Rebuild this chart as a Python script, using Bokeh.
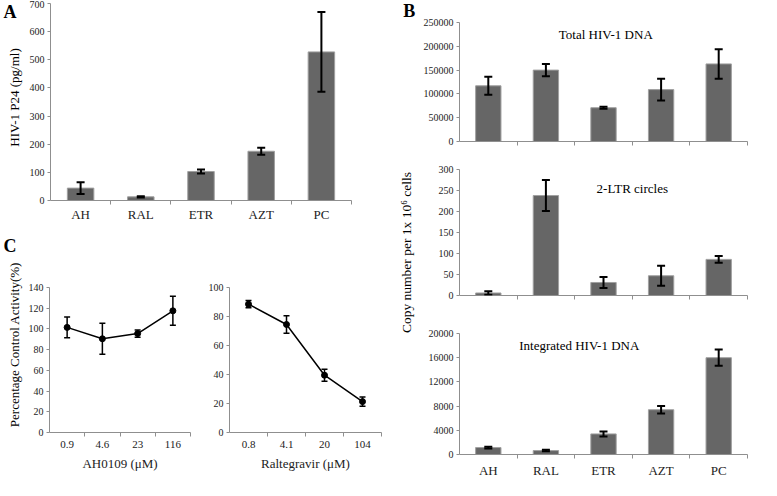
from math import pi
from bokeh.plotting import figure
from bokeh.layouts import row, column
from bokeh.models import (ColumnDataSource, Whisker, TeeHead, FixedTicker, Range1d,
                          BasicTickFormatter, Label)
from bokeh.embed import file_html
from bokeh.resources import INLINE

FONT = "Liberation Serif"
BAR_FILL = "#666666"
BAR_LINE = "#a0a0a0"
AXIS_COLOR = "#8f8f8f"
TEXT_COLOR = "#222222"

# ---------------- data ----------------
categories = ["AH", "RAL", "ETR", "AZT", "PC"]

p24_values = [44, 13, 103, 175, 528]
p24_errors = [21, 2, 7, 12, 142]
p24_ticks = [0, 100, 200, 300, 400, 500, 600, 700]

total_dna_values = [117000, 150000, 71000, 109000, 163000]
total_dna_errors = [19000, 13000, 2000, 23000, 31000]
total_dna_ticks = [0, 50000, 100000, 150000, 200000, 250000]

ltr_values = [6, 238, 31, 47, 86]
ltr_errors = [4, 37, 13, 24, 8]
ltr_ticks = [0, 50, 100, 150, 200, 250, 300]

integrated_values = [1150, 650, 3400, 7400, 16000]
integrated_errors = [150, 120, 420, 620, 1350]
integrated_ticks = [0, 4000, 8000, 12000, 16000, 20000]

ah_conc = ["0.9", "4.6", "23", "116"]
ah_activity = [101.5, 90.5, 95.5, 117.5]
ah_errors = [10, 15, 3.5, 14]
ah_ticks = [0, 20, 40, 60, 80, 100, 120, 140]

ral_conc = ["0.8", "4.1", "20", "104"]
ral_activity = [88.5, 74.5, 39.5, 21.3]
ral_errors = [2.5, 6, 4.2, 3.2]
ral_ticks = [0, 20, 40, 60, 80, 100]


def base_fig(w, h, left, right, top, bottom, n, ymax, yticks, labels=None,
             xlabel_size="13px", xlabel_standoff=2):
    p = figure(width=w, height=h, x_range=Range1d(-0.5, n - 0.5), y_range=Range1d(0, ymax),
               output_backend="svg", toolbar_location=None,
               min_border_left=left, min_border_right=right,
               min_border_top=top, min_border_bottom=bottom)
    p.outline_line_color = None
    p.grid.visible = False
    p.background_fill_color = "white"
    p.border_fill_color = "white"
    xs = list(range(n))
    # x axis: labels at centres, ticks at category boundaries
    xa = p.xaxis[0]
    xa.ticker = FixedTicker(ticks=xs if labels else [],
                            minor_ticks=[i + 0.5 for i in range(n)])
    if labels:
        xa.major_label_overrides = {i: lab for i, lab in zip(xs, labels)}
    xa.major_tick_line_color = None
    xa.major_tick_out = 4
    xa.major_tick_in = 0
    xa.minor_tick_line_color = AXIS_COLOR
    xa.minor_tick_out = 4
    xa.minor_tick_in = 0
    xa.axis_line_color = AXIS_COLOR
    xa.major_label_text_font = FONT
    xa.major_label_text_font_size = xlabel_size
    xa.major_label_text_color = TEXT_COLOR
    xa.major_label_standoff = xlabel_standoff
    # y axis
    ya = p.yaxis[0]
    ya.ticker = FixedTicker(ticks=yticks)
    ya.formatter = BasicTickFormatter(use_scientific=False)
    ya.axis_line_color = AXIS_COLOR
    ya.major_tick_line_color = AXIS_COLOR
    ya.major_tick_out = 3
    ya.major_tick_in = 0
    ya.minor_tick_line_color = None
    ya.major_label_text_font = FONT
    ya.major_label_text_font_size = "10px"
    ya.major_label_text_color = TEXT_COLOR
    ya.major_label_standoff = 3
    return p, xs


def add_whiskers(p, xs, values, errors, width, head):
    src = ColumnDataSource(dict(x=xs,
                                upper=[v + e for v, e in zip(values, errors)],
                                lower=[v - e for v, e in zip(values, errors)]))
    p.add_layout(Whisker(source=src, base="x", upper="upper", lower="lower",
                         line_color="black", line_width=width, level="annotation",
                         upper_head=TeeHead(size=head, line_width=width, line_color="black"),
                         lower_head=TeeHead(size=head, line_width=width, line_color="black")))


def add_bars(p, xs, values, errors):
    p.vbar(x=xs, top=values, width=0.44, fill_color=BAR_FILL, line_color=BAR_LINE, line_width=1)
    add_whiskers(p, xs, values, errors, 2, 8)


def add_line(p, xs, values, errors):
    p.line(xs, values, line_color="black", line_width=1.5)
    p.scatter(xs, values, size=6, fill_color="black", line_color="black")
    add_whiskers(p, xs, values, errors, 1.5, 6)


def text_label(p, x, y, text, size="13px", bold=False, angle=0):
    p.add_layout(Label(x=x, y=y, text=text, text_font=FONT, text_font_size=size,
                       text_font_style="bold" if bold else "normal",
                       text_color="black", text_align="center", text_baseline="middle",
                       angle=angle))


def style_xlabel(p, text, standoff=5):
    p.xaxis.axis_label = text
    p.xaxis.axis_label_text_font = FONT
    p.xaxis.axis_label_text_font_size = "13px"
    p.xaxis.axis_label_text_font_style = "normal"
    p.xaxis.axis_label_text_color = TEXT_COLOR
    p.xaxis.axis_label_standoff = standoff


def strip_fig(w, h):
    s = figure(width=w, height=h, x_range=Range1d(0, w), y_range=Range1d(0, h),
               output_backend="svg", toolbar_location=None, min_border=0,
               x_axis_location=None, y_axis_location=None)
    s.outline_line_color = None
    s.grid.visible = False
    return s


# ---------------- left strip: letters A, C and their y labels ----------------
left_strip = strip_fig(24, 480)
text_label(left_strip, 9.5, 469, "A", size="18px", bold=True)
text_label(left_strip, 14, 383, "HIV-1 P24 (pg/ml)", angle=pi / 2)
text_label(left_strip, 9.5, 235, "C", size="18px", bold=True)
text_label(left_strip, 14, 136, "Percentage Control Activity(%)", angle=pi / 2)

# ---------------- panel A ----------------
pA, xA = base_fig(371, 235, 26, 44, 3, 35, len(categories), 700, p24_ticks, categories)
add_bars(pA, xA, p24_values, p24_errors)

# ---------------- panel C ----------------
pC1, xC1 = base_fig(181, 245, 25, 15, 52, 48, len(ah_conc), 140, ah_ticks, ah_conc,
                    xlabel_size="11px", xlabel_standoff=4)
add_line(pC1, xC1, ah_activity, ah_errors)
style_xlabel(pC1, "AH0109 (\u03bcM)")

pC2, xC2 = base_fig(190, 245, 23, 14, 48, 48, len(ral_conc), 100, ral_ticks, ral_conc,
                    xlabel_size="11px", xlabel_standoff=4)
add_line(pC2, xC2, ral_activity, ral_errors)
style_xlabel(pC2, "Raltegravir (\u03bcM)")

# ---------------- panel B ----------------
pB1, xB1 = base_fig(344, 155, 41, 14, 22, 14, len(categories), 250000, total_dna_ticks)
add_bars(pB1, xB1, total_dna_values, total_dna_errors)
text_label(pB1, 2.04, 225500, "Total HIV-1 DNA")

pB2, xB2 = base_fig(344, 158, 40, 7, 14, 18, len(categories), 300, ltr_ticks)
add_bars(pB2, xB2, ltr_values, ltr_errors)
text_label(pB2, 2.5, 254, "2-LTR circles")

pB3, xB3 = base_fig(344, 167, 42, 1, 20, 23, len(categories), 20000, integrated_ticks,
                    categories, xlabel_standoff=4)
add_bars(pB3, xB3, integrated_values, integrated_errors)
text_label(pB3, 1.58, 17970, "Integrated HIV-1 DNA")

# right strip: panel letter B and shared y label
right_strip = strip_fig(22, 480)
text_label(right_strip, 13.7, 470, "B", size="18px", bold=True)
text_label(right_strip, 11, 228, "Copy number per 1x 10\u2076 cells", size="13.5px", angle=pi / 2)

layout = row(
    left_strip,
    column(pA, row(pC1, pC2)),
    right_strip,
    column(pB1, pB2, pB3),
)

open("out.html", "w").write(file_html(layout, INLINE))
